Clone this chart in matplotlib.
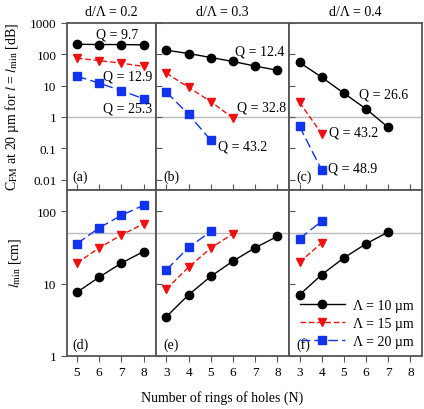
import matplotlib
matplotlib.use("Agg")
import matplotlib.pyplot as plt
import numpy as np

plt.rcParams['font.family'] = ['Liberation Serif', 'DejaVu Serif']
plt.rcParams['mathtext.fontset'] = 'stix'

# ---- data ----
ratios = ["0.2", "0.3", "0.4"]
N_a = [5, 6, 7, 8]
N_b = [3, 4, 5, 6, 7, 8]

# top row: C_FM [dB]
cfm_a_10 = [210, 205, 205, 200]
cfm_a_15 = [75, 63, 52, 41]
cfm_a_20 = [20, 12, 6.9, 3.8]
cfm_b_10 = [135, 106, 79, 59, 42, 31]
cfm_b_15 = [25, 8.8, 3.1, 0.92]
cfm_b_20 = [6.2, 1.2, 0.18]
cfm_c_10 = [55, 18.5, 5.7, 1.8, 0.46]
cfm_c_15 = [2.9, 0.29]
cfm_c_20 = [0.5, 0.02]

# bottom row: l_min [cm]
lmin_d_10 = [7.6, 12.3, 19.2, 27.8]
lmin_d_15 = [19.2, 31.3, 47, 67]
lmin_d_20 = [35.6, 59, 88, 121]
lmin_e_10 = [3.5, 7.0, 12.6, 20.5, 31.3, 45]
lmin_e_15 = [8.4, 16.9, 31, 49]
lmin_e_20 = [15.5, 31.6, 52.6]
lmin_f_10 = [7.0, 13.3, 22.7, 35.6, 51.7]
lmin_f_15 = [19.8, 36.5]
lmin_f_20 = [41.8, 73]

q_labels = {
    0: ["Q = 9.7", "Q = 12.9", "Q = 25.3"],
    1: ["Q = 12.4", "Q = 32.8", "Q = 43.2"],
    2: ["Q = 26.6", "Q = 43.2", "Q = 48.9"],
}
legend_labels = ["Λ = 10 µm", "Λ = 15 µm", "Λ = 20 µm"]
panel_letters = ["(a)", "(b)", "(c)", "(d)", "(e)", "(f)"]

styles = [
    dict(color='black', marker='o', linestyle='-', markersize=6, linewidth=1.0),
    dict(color='#ee1111', marker='v', linestyle=(0, (4, 2)), markersize=6, linewidth=1.0),
    dict(color='#1133ee', marker='s', linestyle=(0, (7, 3)), markersize=5.5, linewidth=1.0),
]

top_data = [
    (N_a, [cfm_a_10, cfm_a_15, cfm_a_20]),
    (N_b, [cfm_b_10, cfm_b_15, cfm_b_20]),
    (N_b, [cfm_c_10, cfm_c_15, cfm_c_20]),
]
bot_data = [
    (N_a, [lmin_d_10, lmin_d_15, lmin_d_20]),
    (N_b, [lmin_e_10, lmin_e_15, lmin_e_20]),
    (N_b, [lmin_f_10, lmin_f_15, lmin_f_20]),
]

fig = plt.figure(figsize=(4.24, 4.10), dpi=100)
gs = fig.add_gridspec(2, 3, left=67/424, right=422/424, top=1-24/410, bottom=1-357/410,
                      hspace=0, wspace=0, width_ratios=[4, 6, 6])

spine_col = '#555555'
fs = 9.5
axes_top = []
axes_bot = []
for c in range(3):
    at = fig.add_subplot(gs[0, c])
    ab = fig.add_subplot(gs[1, c])
    axes_top.append(at)
    axes_bot.append(ab)
    xs, series = top_data[c]
    for i, ys in enumerate(series):
        at.plot(xs[:len(ys)], ys, **styles[i], zorder=3)
    xs, series = bot_data[c]
    for i, ys in enumerate(series):
        ab.plot(xs[:len(ys)], ys, **styles[i], zorder=3, label=legend_labels[i])
    for ax in (at, ab):
        ax.set_yscale('log')
        if c == 0:
            ax.set_xlim(4.55, 8.55)
            ax.set_xticks(N_a)
        else:
            ax.set_xlim(2.52, 8.52)
            ax.set_xticks(N_b)
        ax.minorticks_off()
        for s in ax.spines.values():
            s.set_color(spine_col)
            s.set_linewidth(1.3)
    at.set_ylim(0.0048, 1000)
    ab.set_ylim(1, 200)
    at.axhline(1, color='#bbbbbb', linewidth=1.0, zorder=1)
    ab.axhline(50, color='#bbbbbb', linewidth=1.0, zorder=1)
    at.set_yticks([0.01, 0.1, 1, 10, 100, 1000])
    ab.set_yticks([1, 10, 100])
    at.tick_params(axis='x', direction='in', labelbottom=False, length=4, color=spine_col)
    ab.tick_params(axis='x', direction='out', labelsize=fs, length=4, color=spine_col, pad=3)
    if c == 0:
        at.set_yticklabels(['0.01', '0.1', '1', '10', '100', '1000'])
        ab.set_yticklabels(['1', '10', '100'])
        at.tick_params(axis='y', direction='out', labelsize=fs, length=4, color=spine_col)
        ab.tick_params(axis='y', direction='out', labelsize=fs, length=4, color=spine_col)
    else:
        at.tick_params(axis='y', direction='in', labelleft=False, length=4, color=spine_col)
        ab.tick_params(axis='y', direction='in', labelleft=False, length=4, color=spine_col)
    at.set_title("d/Λ = " + ratios[c], fontsize=10, pad=6)
    at.text(0.06, 0.04, panel_letters[c], transform=at.transAxes, fontsize=fs + 0.5, va='bottom', ha='left')
    ab.text(0.06, 0.03, panel_letters[c + 3], transform=ab.transAxes, fontsize=fs + 0.5, va='bottom', ha='left')

# Q annotations (data coordinates)
qfs = 10
a0, a1, a2 = axes_top
a0.text(6.82, 430, q_labels[0][0], fontsize=qfs, ha='center', va='center')
a0.text(7.28, 20, q_labels[0][1], fontsize=qfs, ha='center', va='center')
a0.text(7.28, 1.9, q_labels[0][2], fontsize=qfs, ha='center', va='center')
a1.text(7.2, 125, q_labels[1][0], fontsize=qfs, ha='center', va='center')
a1.text(7.3, 2.0, q_labels[1][1], fontsize=qfs, ha='center', va='center')
a1.text(6.45, 0.115, q_labels[1][2], fontsize=qfs, ha='center', va='center')
a2.text(6.8, 5.3, q_labels[2][0], fontsize=qfs, ha='center', va='center')
a2.text(5.45, 0.32, q_labels[2][1], fontsize=qfs, ha='center', va='center')
a2.text(5.4, 0.024, q_labels[2][2], fontsize=qfs, ha='center', va='center')

leg = axes_bot[2].legend(loc='lower right', frameon=False, fontsize=fs + 0.5,
                         handlelength=3.2, borderaxespad=0.2, labelspacing=0.35, handletextpad=0.6)

fig.text(12/424, 1 - 107/410, r"C$_{\rm FM}$ at 20 µm for $l$ = $l_{\rm min}$ [dB]",
         rotation=90, ha='center', va='center', fontsize=10)
fig.text(15/424, 1 - 263/410, r"$l_{\rm min}$ [cm]", rotation=90, ha='center', va='center', fontsize=10)
fig.text(222/424, 1 - 398/410, "Number of rings of holes (N)", ha='center', va='center', fontsize=10)

fig.savefig("out.png", dpi=100)
